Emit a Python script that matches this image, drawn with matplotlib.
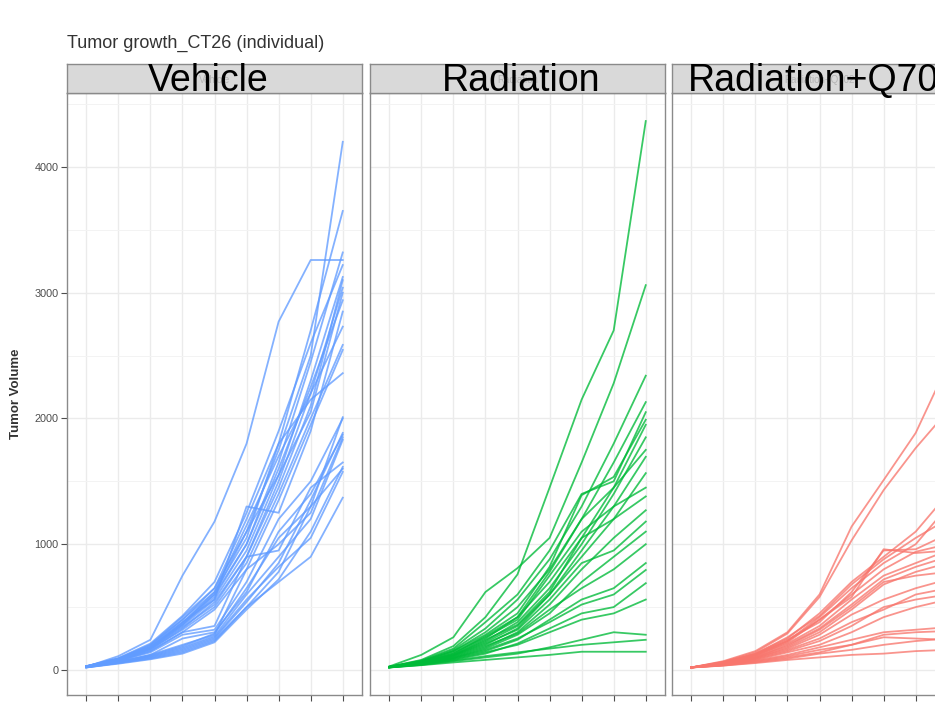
import matplotlib.pyplot as plt
from matplotlib.ticker import MultipleLocator

plt.rcParams['font.family'] = ['Liberation Sans', 'DejaVu Sans']

timepoints = [0, 1, 2, 3, 4, 5, 6, 7, 8]
groups = ['Vehicle', 'Radiation', 'Radiation+Q702']
colors = ['#619CFF', '#00BA38', '#F8766D']

# tumour volume per mouse, one row per animal
vehicle = [
    [25, 110, 240, 750, 1180, 1800, 2770, 3260, 3260],
    [30, 90, 200, 420, 650, 1100, 1750, 2500, 4200],
    [28, 85, 190, 400, 620, 1050, 1800, 2700, 3650],
    [25, 80, 180, 380, 600, 1000, 1650, 2450, 3320],
    [30, 95, 210, 430, 700, 1250, 1900, 2600, 3220],
    [26, 80, 170, 350, 560, 950, 1550, 2300, 3125],
    [22, 75, 160, 330, 540, 900, 1500, 2200, 3040],
    [30, 85, 180, 360, 580, 1000, 1600, 2250, 2940],
    [25, 80, 175, 370, 620, 1150, 1700, 2200, 2730],
    [28, 78, 165, 320, 500, 850, 1400, 2000, 2585],
    [24, 70, 150, 300, 480, 800, 1350, 1950, 2545],
    [30, 90, 200, 400, 650, 1200, 1800, 2150, 2360],
    [26, 85, 170, 340, 520, 900, 1450, 2100, 3100],
    [25, 88, 185, 380, 560, 1300, 1250, 1900, 2850],
    [27, 82, 175, 360, 600, 1100, 1550, 2050, 3000],
    [20, 55, 90, 140, 230, 500, 780, 1300, 2010],
    [22, 60, 100, 160, 250, 540, 850, 1350, 1885],
    [25, 65, 110, 180, 270, 600, 900, 1200, 1830],
    [20, 50, 85, 130, 220, 480, 720, 1100, 1615],
    [24, 62, 105, 170, 260, 560, 820, 1050, 1575],
    [20, 55, 95, 150, 240, 500, 700, 900, 1370],
    [22, 60, 120, 250, 300, 620, 1100, 1400, 1870],
    [26, 70, 140, 280, 320, 700, 1200, 1500, 2000],
    [24, 66, 120, 200, 280, 800, 1000, 1250, 1850],
    [28, 75, 150, 300, 350, 900, 950, 1450, 1650],
    [23, 64, 115, 190, 290, 650, 1050, 1300, 1600],
]

radiation = [
    [25, 80, 190, 420, 760, 1450, 2150, 2700, 4365],
    [28, 120, 260, 620, 810, 1050, 1650, 2280, 3060],
    [24, 70, 160, 330, 560, 880, 1300, 1800, 2340],
    [22, 65, 150, 300, 500, 800, 1200, 1650, 2130],
    [26, 75, 170, 380, 600, 950, 1400, 1500, 2050],
    [25, 70, 150, 280, 450, 820, 1390, 1535, 1990],
    [24, 60, 130, 250, 420, 700, 1050, 1450, 1950],
    [22, 58, 120, 230, 380, 650, 1000, 1400, 1850],
    [25, 62, 140, 260, 400, 750, 1100, 1300, 1695],
    [23, 55, 110, 200, 330, 600, 900, 1200, 1565],
    [24, 60, 120, 240, 360, 620, 1050, 1200, 1380],
    [22, 55, 100, 180, 300, 520, 800, 1050, 1270],
    [25, 58, 115, 210, 320, 560, 850, 950, 1180],
    [22, 50, 95, 170, 280, 450, 700, 900, 1100],
    [23, 52, 105, 190, 290, 480, 650, 800, 1000],
    [21, 48, 90, 150, 240, 400, 560, 650, 850],
    [22, 50, 95, 160, 250, 380, 520, 600, 795],
    [20, 45, 80, 130, 210, 330, 450, 500, 690],
    [21, 46, 85, 140, 200, 300, 400, 450, 560],
    [20, 40, 70, 100, 130, 180, 240, 300, 280],
    [21, 42, 75, 110, 140, 170, 200, 220, 240],
    [20, 38, 60, 80, 100, 120, 145, 145, 145],
    [24, 62, 130, 270, 420, 780, 1200, 1450, 1750],
    [23, 58, 115, 220, 350, 600, 950, 1300, 1450],
]

combo = [
    [20, 70, 150, 300, 600, 1140, 1510, 1885, 2430],
    [20, 65, 140, 290, 580, 1030, 1430, 1765, 2060],
    [20, 60, 130, 250, 450, 700, 900, 1100, 1400],
    [20, 55, 120, 230, 420, 650, 850, 1000, 1300],
    [20, 58, 125, 240, 380, 620, 950, 960, 1080],
    [20, 50, 110, 220, 400, 600, 800, 940, 1000],
    [20, 55, 115, 210, 350, 560, 750, 850, 950],
    [20, 50, 100, 200, 330, 520, 720, 820, 900],
    [20, 48, 95, 180, 300, 480, 680, 780, 850],
    [20, 52, 105, 190, 320, 500, 700, 750, 780],
    [20, 60, 120, 230, 400, 580, 960, 930, 950],
    [20, 62, 128, 260, 430, 680, 880, 1050, 1200],
    [20, 45, 90, 160, 250, 380, 480, 600, 650],
    [20, 42, 85, 150, 230, 350, 500, 560, 600],
    [20, 40, 80, 140, 200, 300, 420, 500, 560],
    [20, 45, 95, 170, 280, 440, 560, 650, 720],
    [20, 40, 75, 120, 180, 240, 300, 320, 340],
    [20, 38, 70, 110, 160, 200, 280, 300, 310],
    [20, 35, 60, 90, 130, 160, 200, 230, 250],
    [20, 35, 55, 80, 100, 120, 130, 150, 160],
    [20, 38, 65, 100, 140, 200, 260, 250, 240],
]

data = [vehicle, radiation, combo]

fig = plt.figure(figsize=(9.35, 7.02), dpi=100)
W, H = 935.0, 702.0
panel_left = [67, 370, 672]
panel_w = 295
panel_top, panel_bot = 93, 695
strip_top = 64
label_x = [208, 521, 688]
label_ha = ['center', 'center', 'left']

for k, (name, mice, col) in enumerate(zip(groups, data, colors)):
    x0 = panel_left[k] / W
    ax = fig.add_axes([x0, 1 - panel_bot / H, panel_w / W, (panel_bot - panel_top) / H])
    for m in mice:
        ax.plot(timepoints, m, color=col, lw=1.3, alpha=0.78, solid_joinstyle='round')
    ax.set_xlim(-0.6, 8.6)
    ax.set_ylim(-199, 4588)
    ax.set_xticks(timepoints)
    ax.yaxis.set_major_locator(MultipleLocator(1000))
    ax.yaxis.set_minor_locator(MultipleLocator(500))
    ax.grid(which='major', color='#ebebeb', lw=1.0)
    ax.grid(which='minor', axis='y', color='#f3f3f3', lw=0.7)
    ax.set_axisbelow(True)
    for s in ax.spines.values():
        s.set_color('#8a8a8a')
        s.set_linewidth(1.0)
    ax.tick_params(axis='x', length=4, color='#4d4d4d', labelbottom=False)
    ax.tick_params(axis='y', which='minor', length=0)
    if k == 0:
        ax.tick_params(axis='y', which='major', length=4, color='#4d4d4d',
                       labelsize=7.8, labelcolor='#4d4d4d', pad=2)
        ax.set_ylabel('Tumor Volume', fontsize=9.5, color='#333333',
                      fontweight='bold', labelpad=9)
    else:
        ax.tick_params(axis='y', which='major', length=0, labelleft=False)

    # facet strip with its own small label under the large one
    sax = fig.add_axes([x0, 1 - panel_top / H, panel_w / W, (panel_top - strip_top) / H])
    sax.set_facecolor('#d9d9d9')
    sax.set_xticks([])
    sax.set_yticks([])
    for s in sax.spines.values():
        s.set_color('#8a8a8a')
        s.set_linewidth(1.0)
    sax.text(0.5, 0.45, name, transform=sax.transAxes, ha='center', va='center',
             fontsize=7, color='#b5b5b5')
    fig.text(label_x[k] / W, 1 - 91 / H, name, ha=label_ha[k], va='baseline',
             fontsize=27, color='black')

fig.text(67 / W, 1 - 43 / H, 'Tumor growth_CT26 (individual)', ha='left', va='center',
         fontsize=13, color='#333333')

fig.savefig('out.png', dpi=100)
